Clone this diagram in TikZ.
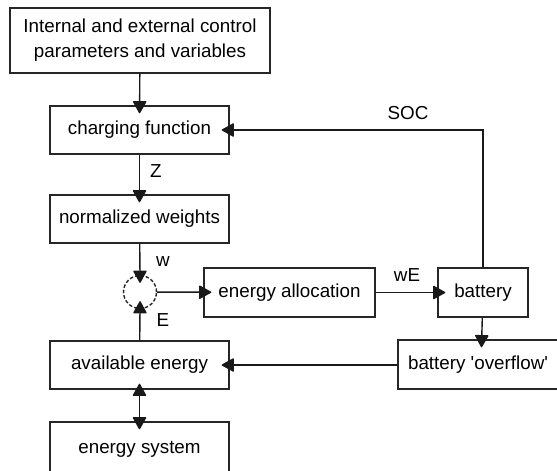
\documentclass[tikz,border=0pt]{standalone}
\usepackage{fontspec}
\setmainfont{Liberation Sans}
\usetikzlibrary{arrows.meta}
\begin{document}
\begin{tikzpicture}[x=1pt,y=-1pt,
  box/.style={draw=black!85,line width=1.4pt,minimum height=48pt,inner sep=0pt,
    font=\fontsize{18.8}{25}\selectfont,align=center},
  conn/.style={line width=1.4pt,draw=black!90,-{Triangle[length=13pt,width=14pt,line join=round]},shorten >=-8pt},
  lbl/.style={font=\fontsize{18.8}{22}\selectfont,inner sep=0pt}]
\useasboundingbox (0,0) rectangle (557,471);
\clip (0,0) rectangle (557,471);
\node[box,minimum width=260pt,minimum height=65pt] (ctrl) at (140,40.5) {Internal and external control\\parameters and variables};
\node[box,minimum width=179pt] (charge) at (139.5,130) {charging function};
\node[box,minimum width=179pt] (norm) at (139.5,219) {normalized weights};
\node[draw=black!85,line width=1.4pt,dash pattern=on 3.5pt off 2pt,circle,minimum size=33pt,inner sep=0pt] (mult) at (140,292) {};
\node[box,minimum width=171pt,minimum height=49pt] (alloc) at (289.5,292.5) {energy allocation};
\node[box,minimum width=90pt,minimum height=49pt] (batt) at (483,292.5) {battery};
\node[box,minimum width=166pt,minimum height=49pt] (over) at (481,364.5) {\hspace*{-6pt}battery \textquotesingle overflow\textquotesingle};
\node[box,minimum width=179pt] (avail) at (139.5,365) {available energy};
\node[box,minimum width=179pt,minimum height=54pt] (esys) at (139.5,449) {energy system};
\coordinate (socc) at (483,130);
\draw[conn] (ctrl) -- (charge);
\draw[conn] (charge) -- node[lbl,right=10pt,pos=0.4] {Z} (norm);
\draw[conn] (norm) -- (mult.north);
\draw[conn] (avail) -- (mult.south);
\draw[conn] (mult) -- (alloc);
\draw[conn] (alloc) -- (batt);
\draw[conn] (batt) -- (over);
\draw[conn] (batt.north) |- (socc) -- (charge.east);
\draw[conn] (over.west |- avail) -- (avail);
\draw[line width=1.4pt,draw=black!90,{Triangle[length=13pt,width=14pt,line join=round]}-{Triangle[length=13pt,width=14pt,line join=round]},shorten >=-8pt,shorten <=-6pt] (avail) -- (esys);
\node[lbl] (lw) at (163,262) {w};
\node[lbl] (le) at (163,320) {E};
\node[lbl] (lwe) at (407,275) {wE};
\node[lbl] (lsoc) at (408,113) {SOC};
\end{tikzpicture}
\end{document}
